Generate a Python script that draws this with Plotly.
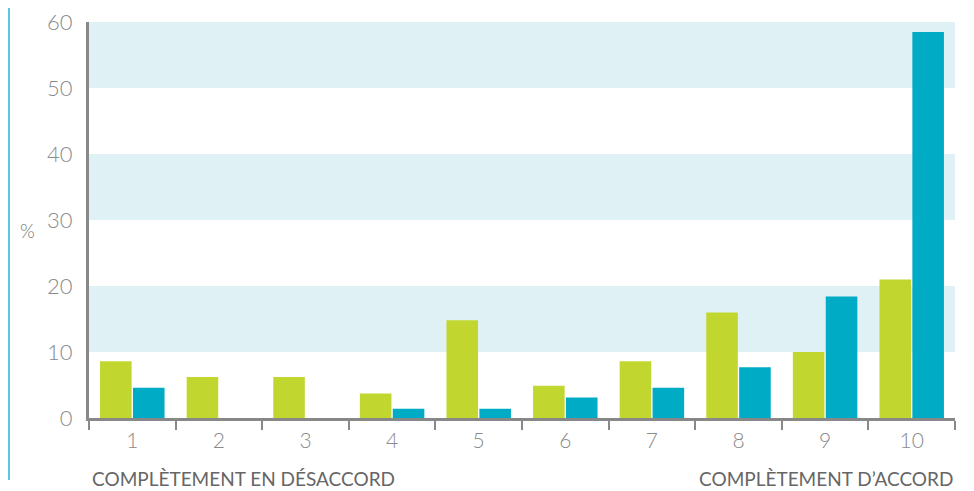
import plotly.graph_objects as go

categories = ["1", "2", "3", "4", "5", "6", "7", "8", "9", "10"]
green_values = [8.6, 6.2, 6.2, 3.7, 14.8, 4.9, 8.6, 16.0, 10.0, 21.0]
blue_values = [4.6, 0, 0, 1.4, 1.4, 3.1, 4.6, 7.7, 18.4, 58.5]
y_ticks = [0, 10, 20, 30, 40, 50, 60]
bands = [(10, 20), (30, 40), (50, 60)]
label_left = "COMPLÈTEMENT EN DÉSACCORD"
label_right = "COMPLÈTEMENT D’ACCORD"

# page is offset by the browser's 8px body margin
OFF = 8
W, H = 974, 491
L, R, T, B = 89 - OFF, 955 - OFF, 22 - OFF, 418 - OFF  # plot box in figure px
pw, ph = R - L, B - T


def px(x):
    return (x - OFF - L) / pw


def py(y):
    return (B - (y - OFF)) / ph


fig = go.Figure()
fig.add_bar(x=categories, y=green_values, marker_color="#c1d72f", marker_line_width=0)
fig.add_bar(x=categories, y=blue_values, marker_color="#00abc6", marker_line_width=0)

shapes = []
for y0, y1 in bands:
    shapes.append(dict(type="rect", xref="paper", yref="y", x0=0, x1=1, y0=y0, y1=y1,
                       fillcolor="#e0f1f6", line_width=0, layer="below"))
shapes.append(dict(type="line", xref="paper", yref="paper",
                   x0=(1 - L) / pw, x1=(1 - L) / pw, y0=py(480), y1=py(0),
                   line=dict(color="#5bc8dc", width=2)))

fig.update_layout(
    width=W, height=H,
    margin=dict(l=L, r=W - R, t=T, b=H - B),
    paper_bgcolor="white", plot_bgcolor="white",
    barmode="group", bargap=0.24, bargroupgap=0.04,
    showlegend=False,
    shapes=shapes,
    font=dict(family="Lato", color="#888888"),
    xaxis=dict(type="category", tickson="boundaries", ticks="outside", ticklen=9,
               tickwidth=2, tickcolor="#888888", showline=True, linecolor="#888888",
               linewidth=3, showgrid=False, automargin=False,
               tickfont=dict(size=21, color="#8a8a8a", weight=300),
               ticklabelstandoff=2),
    yaxis=dict(range=[0, 60], tickvals=y_ticks, showgrid=False, zeroline=False,
               showline=True, linecolor="#888888", linewidth=3, ticks="",
               ticklabeloverflow="allow", automargin=False,
               tickfont=dict(size=22, color="#8a8a8a", weight=300), ticklabelstandoff=9),
    annotations=[
        dict(text="%", xref="paper", yref="paper", x=px(28), y=py(230),
             xanchor="center", yanchor="middle",
             showarrow=False, font=dict(size=19, color="#777777", weight=300)),
        dict(text=label_left, xref="paper", yref="paper", x=px(90), y=py(478),
             xanchor="left", yanchor="middle", showarrow=False,
             font=dict(size=19, color="#666666")),
        dict(text=label_right, xref="paper", yref="paper", x=px(955), y=py(478),
             xanchor="right", yanchor="middle", showarrow=False,
             font=dict(size=19, color="#666666")),
    ],
)

fig.write_html("out.html")
